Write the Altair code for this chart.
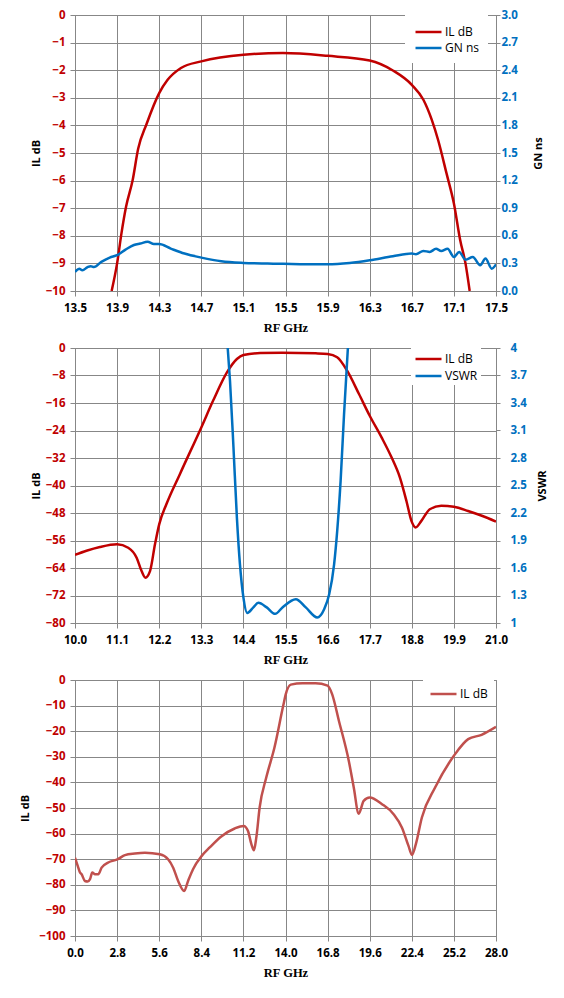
import altair as alt
import pandas as pd

RED = "#C00000"
BLUE = "#0070C0"
RED3 = "#C0504D"
GRID = "#878787"

# ---------------- Panel 1 data ----------------
p1_il_x = [13.848, 13.9, 13.941, 13.985, 14.048, 14.10, 14.18, 14.3, 14.38, 14.507, 14.7, 15.1, 15.476,
           15.9, 16.3, 16.52, 16.7, 16.81, 16.89, 16.95, 17.03, 17.1, 17.16, 17.21, 17.25]
p1_il_y = [-10.0, -9.0, -7.92, -6.95, -5.98, -4.85, -3.95, -2.83, -2.35, -1.92, -1.68, -1.44, -1.38,
           -1.48, -1.65, -2.01, -2.53, -3.07, -3.80, -4.53, -5.74, -6.83, -8.16, -9.0, -10.0]
p1_gn_x = [13.5, 13.54, 13.57, 13.62, 13.65, 13.68, 13.75, 13.83, 13.9, 13.98, 14.06, 14.12, 14.19, 14.25,
           14.3, 14.41, 14.54, 14.7, 14.89, 15.1, 15.33, 15.48, 15.7, 15.9, 16.11, 16.3, 16.52, 16.7,
           16.74, 16.81, 16.87, 16.93, 16.98, 17.04, 17.1, 17.15, 17.21, 17.28, 17.35, 17.4, 17.46, 17.5]
p1_gn_y = [0.207, 0.243, 0.225, 0.26, 0.27, 0.26, 0.316, 0.363, 0.389, 0.45, 0.50, 0.516, 0.534, 0.51,
           0.51, 0.461, 0.407, 0.363, 0.323, 0.305, 0.298, 0.295, 0.29, 0.29, 0.305, 0.334, 0.378, 0.407,
           0.40, 0.436, 0.425, 0.458, 0.436, 0.46, 0.37, 0.425, 0.341, 0.37, 0.28, 0.352, 0.243, 0.29]
p1_x_ticks = [13.5, 13.9, 14.3, 14.7, 15.1, 15.5, 15.9, 16.3, 16.7, 17.1, 17.5]
p1_l_ticks = [0, -1, -2, -3, -4, -5, -6, -7, -8, -9, -10]
p1_r_ticks = [0.0, 0.3, 0.6, 0.9, 1.2, 1.5, 1.8, 2.1, 2.4, 2.7, 3.0]

# ---------------- Panel 2 data ----------------
p2_il_x = [10.0, 10.3, 10.65, 11.1, 11.39, 11.61, 11.74, 11.84, 11.96, 12.09, 12.2, 12.39, 12.74, 13.3,
           13.61, 13.97, 14.23, 14.4, 14.84, 15.41, 16.29, 16.6, 16.85, 17.11, 17.42, 17.7, 18.01, 18.27,
           18.49, 18.66, 18.79, 18.9, 19.05, 19.27, 19.57, 19.9, 20.27, 20.63, 21.0]
p2_il_y = [-60.2, -59.0, -57.9, -57.1, -58.1, -61.0, -64.9, -66.8, -64.9, -57.1, -51.3, -45.4, -36.7, -23.1,
           -15.3, -7.09, -3.2, -2.04, -1.46, -1.36, -1.55, -1.75, -2.7, -6.6, -13.4, -19.7, -26.0, -31.8,
           -37.7, -44.5, -50.3, -52.2, -50.3, -46.9, -45.9, -46.2, -47.4, -48.8, -50.5]
p2_vs_x = [13.99, 14.05, 14.14, 14.23, 14.31, 14.4, 14.5, 14.66, 14.79, 15.01, 15.23, 15.42, 15.77,
           16.03, 16.33, 16.51, 16.64, 16.77, 16.85, 16.94, 17.03, 17.13]
p2_vs_y = [4.0, 3.64, 2.92, 2.15, 1.64, 1.28, 1.11, 1.17, 1.22, 1.17, 1.10, 1.17, 1.26,
           1.17, 1.06, 1.15, 1.31, 1.64, 2.00, 2.55, 3.28, 4.0]
p2_x_ticks = [10.0, 11.1, 12.2, 13.3, 14.4, 15.5, 16.6, 17.7, 18.8, 19.9, 21.0]
p2_l_ticks = [0, -8, -16, -24, -32, -40, -48, -56, -64, -72, -80]
p2_r_ticks = [1.0, 1.3, 1.6, 1.9, 2.2, 2.5, 2.8, 3.1, 3.4, 3.7, 4.0]

# ---------------- Panel 3 data ----------------
p3_il_x = [0.0, 0.18, 0.33, 0.44, 0.66, 0.84, 1.0, 1.15, 1.33, 1.55, 1.77, 2.21, 2.85, 3.32, 3.98, 4.65,
           5.64, 6.19, 6.53, 6.86, 7.26, 7.52, 7.85, 8.43, 8.96, 9.73, 10.62, 11.22, 11.5, 11.73, 11.9,
           12.06, 12.28, 12.72, 13.27, 13.85, 14.02, 14.35, 15.13, 16.0, 16.8, 17.1, 17.55, 18.21, 18.54,
           18.87, 19.2, 19.6, 20.42, 21.19, 21.74, 22.18, 22.41, 22.67, 23.07, 23.95, 25.2, 26.15, 27.04, 28.0]
p3_il_y = [-69.4, -72.6, -75.2, -75.9, -78.5, -78.7, -77.8, -75.2, -75.9, -75.9, -73.3, -71.3, -70.0, -68.4,
           -67.8, -67.5, -68.1, -70.0, -73.3, -78.5, -82.4, -78.5, -73.9, -68.7, -65.4, -61.1, -58.0, -57.0,
           -58.9, -64.1, -66.5, -61.5, -49.8, -38.1, -26.3, -10.0, -5.5, -1.8, -1.3, -1.3, -2.2, -5.5,
           -15.9, -31.6, -42.0, -52.2, -47.2, -45.9, -48.5, -52.4, -57.6, -64.8, -68.3, -64.1, -53.7,
           -42.0, -29.6, -23.1, -21.4, -18.3]
p3_x_ticks = [0.0, 2.8, 5.6, 8.4, 11.2, 14.0, 16.8, 19.6, 22.4, 25.2, 28.0]
p3_l_ticks = [0, -10, -20, -30, -40, -50, -60, -70, -80, -90, -100]

W = 421
LBL_FONT = "Open Sans"
LBL_SIZE = 11.5

def x_enc(ticks):
    return alt.X("x:Q", scale=alt.Scale(domain=[ticks[0], ticks[-1]], nice=False, zero=False),
                 axis=alt.Axis(values=ticks, format=".1f", title="RF GHz", grid=True,
                               gridColor=GRID, domainColor=GRID, tickColor=GRID,
                               labelColor="black", labelFont=LBL_FONT, labelFontWeight="bold",
                               labelFontSize=LBL_SIZE, titleFont="Liberation Serif", titleFontWeight="bold",
                               titleFontSize=12.5, titleColor="black", labelPadding=6, titlePadding=8,
                               tickSize=5, labelFlush=False))

def left_axis(ticks, tpad):
    return alt.Axis(values=ticks, format="d", title="IL dB", grid=True, labelColor=RED,
                    gridColor=GRID, domainColor=GRID, tickColor=GRID,
                    labelFont=LBL_FONT, labelFontWeight="bold", labelFontSize=LBL_SIZE,
                    titleFont="Open Sans", titleFontWeight="bold", titleFontSize=11, titleColor="black",
                    titleAngle=270, titlePadding=tpad, tickSize=5, labelPadding=5)

def right_axis(ticks, title, fmt, pad, tpad):
    return alt.Axis(values=ticks, format=fmt, title=title, orient="right", grid=False,
                    domainColor=GRID, tickColor=GRID,
                    labelColor=BLUE, labelFont=LBL_FONT, labelFontWeight="bold", labelFontSize=LBL_SIZE,
                    titleFont="Open Sans", titleFontWeight="bold", titleFontSize=11, titleColor="black",
                    titleAngle=270, titleBaseline="top", titlePadding=tpad, tickSize=4, labelPadding=pad)

def legend(lx, ly, pad, rowpad):
    return alt.Legend(title=None, orient="none", legendX=lx, legendY=ly, fillColor="white",
                      padding=pad, symbolType="M-1,0H3", symbolSize=169, symbolStrokeWidth=2.5,
                      labelFont="Open Sans", labelFontSize=12, labelColor="black",
                      labelOffset=15, rowPadding=rowpad)

def series_df(xs, ys, name):
    return pd.DataFrame({"x": xs, "y": ys, "series": name})

# Panel 1
cs1 = alt.Scale(domain=["IL dB", "GN ns"], range=[RED, BLUE])
lg1 = legend(330, 0, 9, 2)
l1a = alt.Chart(series_df(p1_il_x, p1_il_y, "IL dB")).mark_line(strokeWidth=2.5, interpolate="monotone", clip=True).encode(
    x=x_enc(p1_x_ticks),
    y=alt.Y("y:Q", scale=alt.Scale(domain=[-10, 0], nice=False), axis=left_axis(p1_l_ticks, 4)),
    color=alt.Color("series:N", scale=cs1, legend=lg1))
l1b = alt.Chart(series_df(p1_gn_x, p1_gn_y, "GN ns")).mark_line(strokeWidth=2.5, interpolate="monotone", clip=True).encode(
    x=x_enc(p1_x_ticks),
    y=alt.Y("y:Q", scale=alt.Scale(domain=[0, 3], nice=False), axis=right_axis(p1_r_ticks, "GN ns", ".1f", 1, 15)),
    color=alt.Color("series:N", scale=cs1, legend=lg1))
p1 = alt.layer(l1a, l1b).resolve_scale(y="independent").properties(width=W, height=276)

# Panel 2
cs2 = alt.Scale(domain=["IL dB", "VSWR"], range=[RED, BLUE])
lg2 = legend(336, 0, 3, 3)
l2a = alt.Chart(series_df(p2_il_x, p2_il_y, "IL dB")).mark_line(strokeWidth=2.5, interpolate="monotone", clip=True).encode(
    x=x_enc(p2_x_ticks),
    y=alt.Y("y:Q", scale=alt.Scale(domain=[-80, 0], nice=False), axis=left_axis(p2_l_ticks, 4)),
    color=alt.Color("series:N", scale=cs2, legend=lg2))
l2b = alt.Chart(series_df(p2_vs_x, p2_vs_y, "VSWR")).mark_line(strokeWidth=2.5, interpolate="monotone", clip=True).encode(
    x=x_enc(p2_x_ticks),
    y=alt.Y("y:Q", scale=alt.Scale(domain=[1, 4], nice=False, zero=False), axis=right_axis(p2_r_ticks, "VSWR", ".2~f", 10, 10)),
    color=alt.Color("series:N", scale=cs2, legend=lg2))
p2 = alt.layer(l2a, l2b).resolve_scale(y="independent").properties(width=W, height=275)

# Panel 3
cs3 = alt.Scale(domain=["IL dB"], range=[RED3])
p3 = alt.Chart(series_df(p3_il_x, p3_il_y, "IL dB")).mark_line(strokeWidth=2.5, interpolate="monotone", clip=True).encode(
    x=x_enc(p3_x_ticks),
    y=alt.Y("y:Q", scale=alt.Scale(domain=[-100, 0], nice=False), axis=left_axis(p3_l_ticks, 8)),
    color=alt.Color("series:N", scale=cs3, legend=legend(348, 0, 6, 2))).properties(width=W, height=256)

chart = alt.vconcat(p1, p2, p3, spacing=6, background="white").resolve_scale(color="independent").resolve_legend(color="independent").properties(
    padding={"left": 11, "top": 0, "right": 2, "bottom": 2}
).configure_view(stroke=GRID, strokeWidth=1).configure_axis(
    gridColor=GRID, gridWidth=1, gridOpacity=1, domainColor=GRID, tickColor=GRID, titleColor="black"
)

chart.save("out.html", embed_options={"renderer": "svg", "actions": False})
